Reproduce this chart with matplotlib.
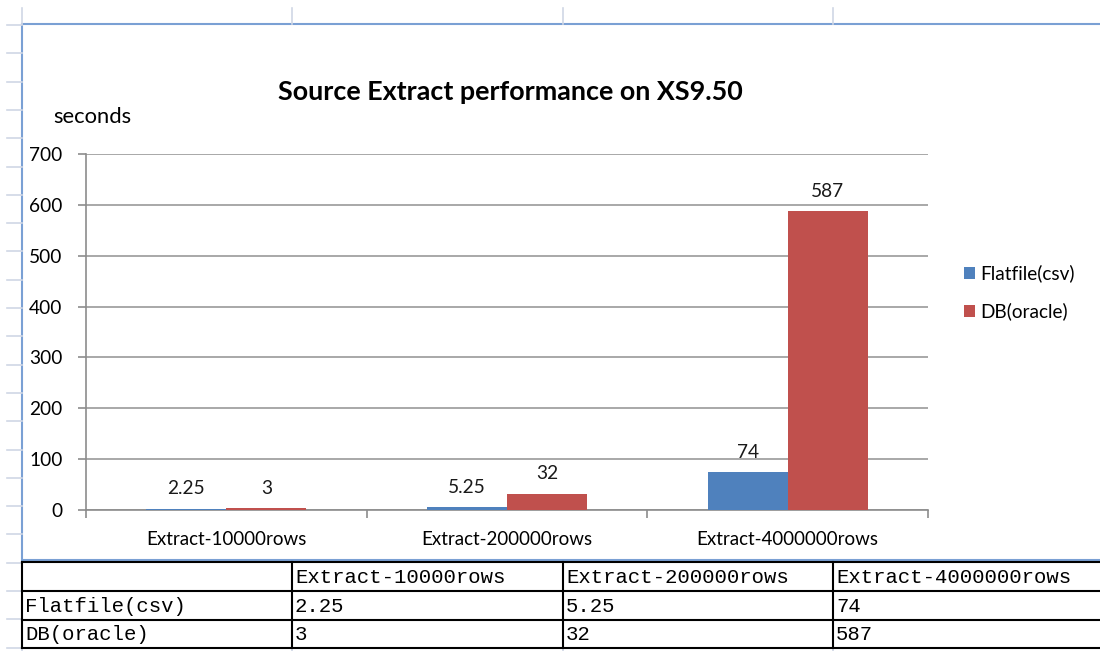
import numpy as np
import matplotlib.pyplot as plt
from matplotlib.patches import Rectangle

# chart data
categories = ['Extract-10000rows', 'Extract-200000rows', 'Extract-4000000rows']
series_names = ['Flatfile(csv)', 'DB(oracle)']
flatfile = [2.25, 5.25, 74]
oracle = [3, 32, 587]
flatfile_text = ['2.25', '5.25', '74']
oracle_text = ['3', '32', '587']
yticks = [0, 100, 200, 300, 400, 500, 600, 700]

blue = '#4f81bd'
red = '#c0504d'
sheet_grid = '#d0d7e5'
chart_font = 'Lato'
cell_font = 'Liberation Mono'

W, H = 1100, 651
fig = plt.figure(figsize=(W / 100, H / 100), dpi=100)

# spreadsheet background in pixel coordinates
bg = fig.add_axes([0, 0, 1, 1], zorder=0)
bg.set_xlim(0, W)
bg.set_ylim(H, 0)
bg.axis('off')

row_h = 28.3
row_y = 25 + row_h * np.arange(23)
col_x = [22, 292, 563, 833]
for y in row_y:
    bg.plot([7, 22], [y, y], color=sheet_grid, lw=1.2)
for x in col_x:
    bg.plot([x, x], [8, 24], color=sheet_grid, lw=1.2)
    bg.plot([x, x], [648, H], color=sheet_grid, lw=1.2)

# chart area box
bg.add_patch(Rectangle((22, 24), 1100, 536, facecolor='white',
                       edgecolor='#7aa0d4', lw=1.5))

# data table under the chart
t_top = 562
rows = [t_top, t_top + 29, t_top + 58, t_top + 86]
for y in rows:
    bg.plot([22, W + 5], [y, y], color='black', lw=1.5)
for x in col_x:
    bg.plot([x, x], [rows[0], rows[-1]], color='black', lw=1.5)

cells = [[''] + categories,
         [series_names[0]] + flatfile_text,
         [series_names[1]] + oracle_text]
for r, line in enumerate(cells):
    yc = (rows[r] + rows[r + 1]) / 2 + 1
    for c, txt in enumerate(line):
        bg.text(col_x[c] + 3, yc, txt, fontsize=14.9, family=cell_font,
                ha='left', va='center', color='black')

# the bar chart itself
ax = fig.add_axes([86 / W, (H - 510) / H, (928 - 86) / W, (510 - 154) / H], zorder=1)
ax.patch.set_alpha(0)
x = np.arange(len(categories))
w = 0.285
b1 = ax.bar(x - w / 2, flatfile, w, color=blue, label=series_names[0], zorder=3)
b2 = ax.bar(x + w / 2, oracle, w, color=red, label=series_names[1], zorder=3)

for bars, labels in ((b1, flatfile_text), (b2, oracle_text)):
    for rect, lab in zip(bars, labels):
        ax.annotate(lab, (rect.get_x() + rect.get_width() / 2, rect.get_height()),
                    xytext=(0, 14.5), textcoords='offset points', ha='center',
                    va='center', fontsize=13.8, family=chart_font, color='#1a1a1a')

ax.set_xlim(-0.5, 2.5)
ax.set_ylim(0, 700)
ax.set_yticks(yticks)
ax.set_xticks([-0.5, 0.5, 1.5, 2.5])
ax.set_xticklabels([])
ax.set_xticks(x, minor=True)
ax.set_xticklabels(categories, minor=True, fontsize=13.5, family=chart_font)
ax.tick_params(axis='x', which='minor', length=0, pad=15)
ax.tick_params(axis='x', which='major', length=6, width=1.2, color='#8c8c8c', direction='out')
ax.tick_params(axis='y', length=6, width=1.2, color='#8c8c8c', pad=11, labelsize=13.8)
for lab in ax.get_yticklabels():
    lab.set_family(chart_font)
ax.grid(axis='y', color='#9a9a9a', lw=1.2, zorder=0)
for s in ('top', 'right'):
    ax.spines[s].set_visible(False)
for s in ('left', 'bottom'):
    ax.spines[s].set_color('#8c8c8c')
    ax.spines[s].set_linewidth(1.2)

ax.legend(loc='upper left', bbox_to_anchor=(956 / W, 1 - 257 / H),
          bbox_transform=fig.transFigure, frameon=False, prop={'family': chart_font, 'size': 13.7},
          handlelength=0.6, handleheight=0.6, handletextpad=0.25, labelspacing=1.05,
          borderaxespad=0)

fig.text(510 / W, 1 - 92 / H, 'Source Extract performance on XS9.50', ha='center',
         va='center', fontsize=19.4, fontweight='bold', family=chart_font)
fig.text(53 / W, 1 - 117 / H, 'seconds', ha='left', va='center', fontsize=15.8,
         family=chart_font)

fig.savefig('out.png', dpi=100)
